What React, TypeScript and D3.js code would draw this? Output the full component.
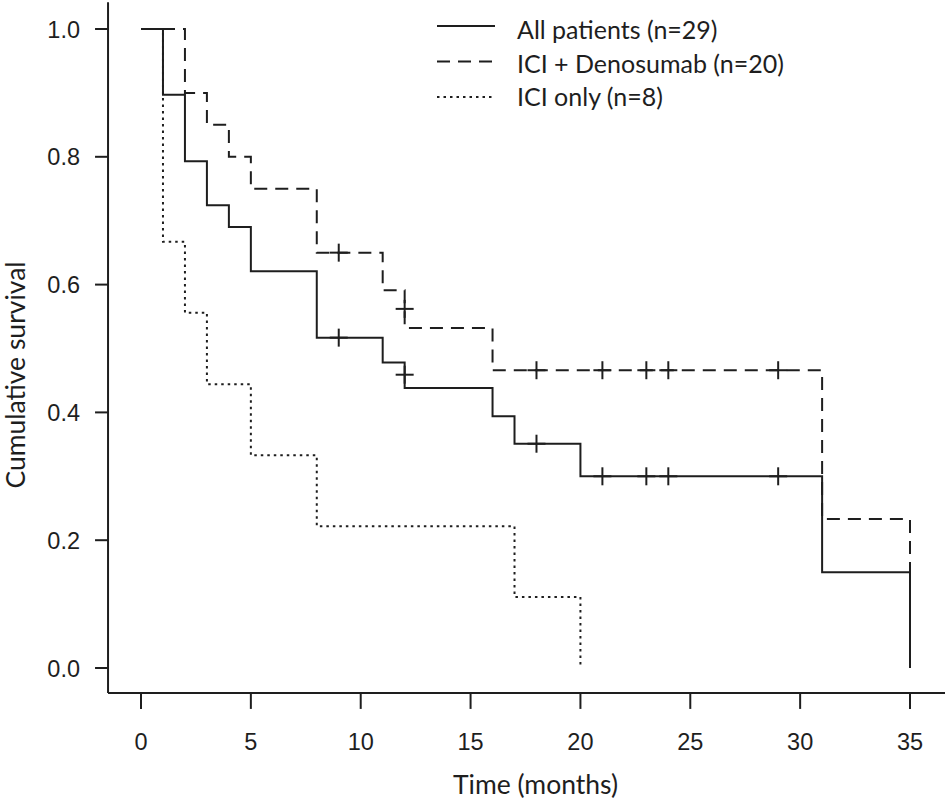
import { scaleLinear, line as d3line, curveStepAfter } from "d3";

// Kaplan-Meier step values
const allTimes = [0, 1, 2, 3, 4, 5, 8, 11, 12, 16, 17, 20, 31, 35];
const allSurv = [1.0, 0.897, 0.793, 0.724, 0.69, 0.621, 0.517, 0.478, 0.438, 0.394, 0.351, 0.3, 0.15, 0.0];
const allCensorTimes = [9, 12, 18, 21, 23, 24, 29];
const allCensorSurv = [0.517, 0.459, 0.351, 0.3, 0.3, 0.3, 0.3];

const denoTimes = [0, 2, 3, 4, 5, 8, 11, 12, 16, 31, 35];
const denoSurv = [1.0, 0.9, 0.85, 0.8, 0.75, 0.65, 0.591, 0.532, 0.466, 0.233, 0.0];
const denoCensorTimes = [9, 12, 18, 21, 23, 24, 29];
const denoCensorSurv = [0.65, 0.562, 0.466, 0.466, 0.466, 0.466, 0.466];

const iciTimes = [0, 1, 2, 3, 5, 8, 17, 20];
const iciSurv = [1.0, 0.667, 0.556, 0.444, 0.333, 0.222, 0.111, 0.0];

const xTicks = [0, 5, 10, 15, 20, 25, 30, 35];
const yTicks = [0, 0.2, 0.4, 0.6, 0.8, 1.0];

const legendLabels = ["All patients (n=29)", "ICI + Denosumab (n=20)", "ICI only (n=8)"];

const W = 945;
const H = 799;
const INK = "#1e1e1e";
const TICK_FONT = "'Liberation Sans', Arial, sans-serif";
const TEXT_FONT = "Lato, 'Open Sans', sans-serif";

const DASH = "13,8";
const DOT = "2.5,4";

export default function App() {
  const x = scaleLinear().domain([0, 35]).range([141, 910]);
  const y = scaleLinear().domain([0, 1]).range([668, 29]);

  const frameLeft = x(-1.5);
  const frameRight = x(36.6);
  const frameTop = y(1.042);
  const frameBottom = y(-0.039);

  const step = (ts: number[], ss: number[]) =>
    d3line<number>()
      .x((_, i) => x(ts[i]))
      .y((s) => y(s))
      .curve(curveStepAfter)(ss) ?? "";

  const series = [
    { times: allTimes, surv: allSurv, dash: undefined as string | undefined },
    { times: denoTimes, surv: denoSurv, dash: DASH },
    { times: iciTimes, surv: iciSurv, dash: DOT },
  ];

  const censors = [
    { times: allCensorTimes, surv: allCensorSurv },
    { times: denoCensorTimes, surv: denoCensorSurv },
  ];

  const half = 9;

  return (
    <svg
      width={W}
      height={H}
      viewBox={`0 0 ${W} ${H}`}
      style={{ position: "absolute", left: 0, top: 0, background: "white" }}
    >
      <rect width={W} height={H} fill="white" />

      {/* axes: L shaped frame */}
      <line x1={frameLeft} x2={frameLeft} y1={frameTop} y2={frameBottom} stroke={INK} strokeWidth={2} />
      <line x1={frameLeft} x2={frameRight} y1={frameBottom} y2={frameBottom} stroke={INK} strokeWidth={2} />

      {yTicks.map((t) => (
        <g key={`y${t}`}>
          <line x1={frameLeft - 13} x2={frameLeft} y1={y(t)} y2={y(t)} stroke={INK} strokeWidth={2} />
          <text
            x={frameLeft - 28}
            y={y(t) + 8.5}
            textAnchor="end"
            fontFamily={TICK_FONT}
            fontSize={23.5}
            fill={INK}
          >
            {t.toFixed(1)}
          </text>
        </g>
      ))}

      {xTicks.map((t) => (
        <g key={`x${t}`}>
          <line x1={x(t)} x2={x(t)} y1={frameBottom} y2={frameBottom + 16} stroke={INK} strokeWidth={2} />
          <text x={x(t)} y={750} textAnchor="middle" fontFamily={TICK_FONT} fontSize={23.5} fill={INK}>
            {t}
          </text>
        </g>
      ))}

      <text
        x={(x(0) + x(35)) / 2 + 10}
        y={794}
        textAnchor="middle"
        fontFamily={TEXT_FONT}
        fontSize={26.5}
        fill={INK}
      >
        Time (months)
      </text>
      <text
        transform={`translate(25, 375) rotate(-90)`}
        textAnchor="middle"
        fontFamily={TEXT_FONT}
        fontSize={26.5}
        fill={INK}
      >
        Cumulative survival
      </text>

      {/* survival curves */}
      {series.map((s, i) => (
        <path
          key={`s${i}`}
          d={step(s.times, s.surv)}
          fill="none"
          stroke={INK}
          strokeWidth={2}
          strokeDasharray={s.dash}
        />
      ))}

      {/* censor marks */}
      {censors.map((c, ci) =>
        c.times.map((t, i) => (
          <g key={`c${ci}-${i}`} stroke={INK} strokeWidth={2}>
            <line x1={x(t) - half} x2={x(t) + half} y1={y(c.surv[i])} y2={y(c.surv[i])} />
            <line x1={x(t)} x2={x(t)} y1={y(c.surv[i]) - half} y2={y(c.surv[i]) + half} />
          </g>
        ))
      )}

      {/* legend */}
      {legendLabels.map((label, i) => (
        <g key={`l${i}`}>
          <line
            x1={437}
            x2={495}
            y1={26 + i * 35.5}
            y2={26 + i * 35.5}
            stroke={INK}
            strokeWidth={2}
            strokeDasharray={series[i].dash}
          />
          <text x={517} y={39 + i * 33.5} fontFamily={TEXT_FONT} fontSize={25} fill={INK}>
            {label}
          </text>
        </g>
      ))}
    </svg>
  );
}
